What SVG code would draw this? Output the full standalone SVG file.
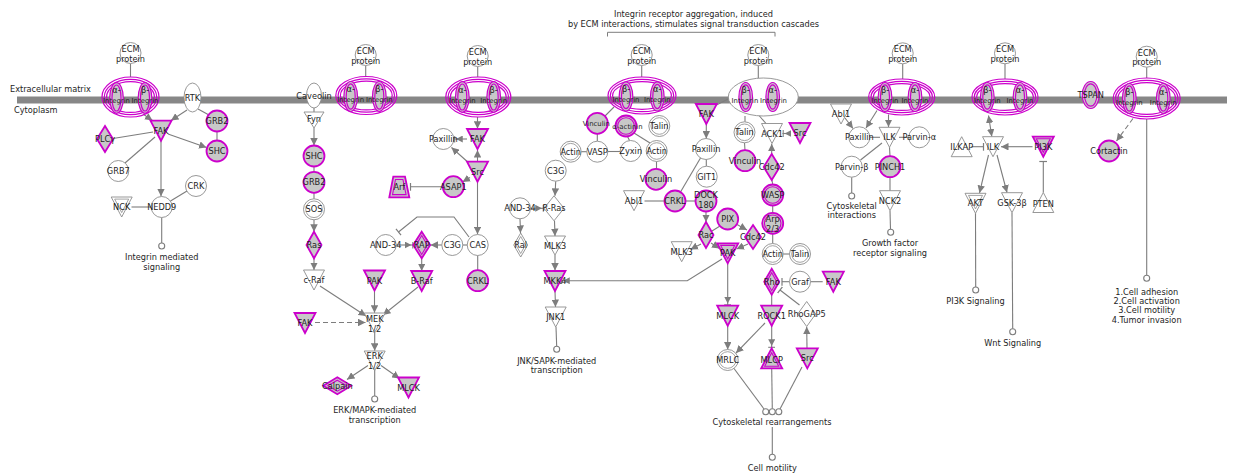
<svg xmlns="http://www.w3.org/2000/svg" xmlns:xlink="http://www.w3.org/1999/xlink" width="1233" height="475" viewBox="0 0 1233 475">
<style>
.w{fill:#fff;stroke:#8c8c8c;stroke-width:.9}
.wi{fill:none;stroke:#8c8c8c;stroke-width:.8}
.g{fill:#c8c8c8;stroke:#cc00cc;stroke-width:1.8}
.gi{fill:none;stroke:#cc00cc;stroke-width:1.1}
.m{fill:none;stroke:#cc00cc;stroke-width:1.2}
.mg{fill:#c8c8c8;stroke:#cc00cc;stroke-width:1.2}
.e{fill:none;stroke:#7d7d7d;stroke-width:1.1}
.a{marker-end:url(#arr)}
.ab{marker-end:url(#arrbar)}
.b{marker-end:url(#bar)}
.d{stroke-dasharray:5 3}
.s{fill:#fff;stroke:#7d7d7d;stroke-width:1.1}
.t{font-family:'DejaVu Sans',Verdana,sans-serif;font-size:8.2px;fill:#1e1e1e;text-anchor:middle}
.tl{font-family:'DejaVu Sans',Verdana,sans-serif;font-size:8.2px;fill:#1e1e1e}
.ti{font-size:6.9px}
</style>
<defs>
<marker id="arr" viewBox="0 0 10 10" refX="10" refY="5" markerWidth="7.5" markerHeight="7.5" markerUnits="userSpaceOnUse" orient="auto-start-reverse"><path d="M0,0L10,5L0,10z" fill="#7d7d7d"/></marker>
<marker id="arrbar" viewBox="0 0 13 10" refX="12.5" refY="5" markerWidth="9.1" markerHeight="7" markerUnits="userSpaceOnUse" orient="auto"><path d="M0,0L9.5,5L0,10z" fill="#7d7d7d"/><path d="M11.5,0V10" stroke="#7d7d7d" stroke-width="1.5"/></marker>
<marker id="bar" viewBox="0 0 10 10" refX="5" refY="5" markerWidth="8" markerHeight="8" markerUnits="userSpaceOnUse" orient="auto"><path d="M5,0V10" stroke="#7d7d7d" stroke-width="1.5"/></marker>
<circle id="c" r="10.5"/>
<circle id="ci" r="8.3"/>
<polygon id="dt" points="-10.5,-10 10.5,-10 0,10"/>
<polygon id="dti" points="-7,-7.9 7,-7.9 0,5.6"/>
<polygon id="ut" points="0,-10 10.5,10 -10.5,10"/>
<polygon id="uti" points="0,-5.6 7,7.9 -7,7.9"/>
<circle id="sc" r="3"/>
</defs>

<!-- membrane -->
<rect x="17" y="96.5" width="1210" height="7" fill="#878787"/>
<text class="tl" x="10" y="92">Extracellular matrix</text>
<text class="tl" x="14" y="112.7">Cytoplasm</text>

<!-- bracket -->
<g id="annotation">
<text class="t" x="693.5" y="17.3">Integrin receptor aggregation, induced</text>
<text class="t" x="693.5" y="27">by ECM interactions, stimulates signal transduction cascades</text>
<path d="M607.5,36.5V32.3H775V36.5" fill="none" stroke="#7d7d7d" stroke-width="1"/>
</g>

<g id="connectors">
<!-- group 1 -->
<path class="e" d="M130.5,63.5V77"/>
<path class="e a" d="M143,114L152.5,120.5"/>
<path class="e a" d="M187,110L171,120.5"/>
<path class="e" d="M198,109L209,115"/>
<path class="e" d="M217,131.5V140.5"/>
<path class="e a" d="M168,134L206.5,147.5"/>
<path class="e" d="M153,132L113,138.5"/>
<path class="e" d="M155,137L125,163"/>
<path class="e a" d="M161,141V196.3"/>
<path class="e" d="M187,191L170.5,201"/>
<path class="e" d="M131.5,207H151"/>
<path class="e" d="M161.7,217.5V243"/>
<!-- group 2 -->
<path class="e" d="M365.7,65.5V76.5"/>
<path class="e" d="M314,108V112"/>
<path class="e a" d="M314,128V145.5"/>
<path class="e" d="M314,166.5V171.8"/>
<path class="e" d="M314,192.8V198.8"/>
<path class="e a" d="M314,219.8V231.7"/>
<path class="e a" d="M314,258.3V270"/>
<path class="e a" d="M320,286L366,316"/>
<path class="e a" d="M374.5,290.5V312.8"/>
<path class="e a" d="M418,287L383,315"/>
<path class="e d a" d="M315,322.5H365.5"/>
<path class="e a" d="M374.7,332V350.8"/>
<path class="e a" d="M368,365.5L347,379.5"/>
<path class="e a" d="M381,365.5L399.5,378.5"/>
<path class="e" d="M374.7,370V396"/>
<!-- group 3 -->
<path class="e" d="M477.7,66.5V77"/>
<path class="e a" d="M477.5,117V128.8"/>
<path class="e ab" d="M467,139H454"/>
<path class="e a" d="M477.5,162V150"/>
<path class="e a" d="M470,164L451.5,147.5"/>
<path class="e a" d="M470,177.5L462.5,182"/>
<path class="e b" d="M442.8,186.7H410.5"/>
<path class="e a" d="M477.5,182V234.3"/>
<path class="e" d="M467.2,245H462.8"/>
<path class="e a" d="M441.8,245H430.5"/>
<path class="e ab" d="M396.2,245H413.5"/>
<path class="e b" d="M469,237L454,217H417L398.5,232"/>
<path class="e a" d="M421.7,258.5V271"/>
<path class="e" d="M477.7,255.5V270.2"/>
<!-- group 4 -->
<path class="e" d="M641.7,65.5V77"/>
<path class="e" d="M614,107L605,116"/>
<path class="e" d="M597.3,133.8V141.2"/>
<path class="e" d="M581.2,151.7H586.8"/>
<path class="e" d="M607.8,151.5H620.2"/>
<path class="e" d="M627.5,136.5L629.5,140.5"/>
<path class="e" d="M634,133L650,143"/>
<path class="e" d="M656.5,161.5V168.8"/>
<path class="e a" d="M555.7,181.2L555,195.8"/>
<path class="e ab" d="M530.5,208.3H544"/>
<path class="e a" d="M520,218.8L520.5,233"/>
<path class="e a" d="M554.5,220.8L555,236"/>
<path class="e a" d="M555,255V270.5"/>
<path class="e a" d="M555,291L555.5,307"/>
<path class="e" d="M556,327L556.7,346.3"/>
<path class="e ab" d="M722,259L687.3,280.7H561"/>
<!-- centre -->
<path class="e" d="M731,97.5L716.5,105"/>
<path class="e a" d="M706.3,124V138.5"/>
<path class="e" d="M706.3,159.5V166.2"/>
<path class="e" d="M700.5,158L680.5,192"/>
<path class="e" d="M644.5,201H664.5"/>
<path class="e" d="M685.5,201H695.5"/>
<path class="e a" d="M706,211.5V222"/>
<path class="e" d="M720,226L712,231"/>
<path class="e a" d="M737,224.5L747,230"/>
<path class="e a" d="M701,244L690.5,249.5"/>
<path class="e a" d="M711,243L719.5,248.5"/>
<path class="e a" d="M748,244L736.5,249"/>
<path class="e ab" d="M727.7,263.3V305.5"/>
<path class="e a" d="M727.7,325.5V349.5"/>
<path class="e a" d="M765,323L736,353"/>
<path class="e ab" d="M771.7,325.5V348"/>
<path class="e" d="M771.7,294.7V305.7"/>
<path class="e b" d="M789.5,281.7H782"/>
<path class="e" d="M810.5,281.7H822.7"/>
<path class="e b" d="M799.5,305L780,290"/>
<path class="e a" d="M807,348.3L806.7,326.8"/>
<path class="e" d="M734,368.5L764,409"/>
<path class="e" d="M771.7,368.3L772.3,408.7"/>
<path class="e" d="M802,367L780,409"/>
<path class="e" d="M772.3,427V454.3"/>
<path class="e" d="M758.3,65.5V78"/>
<path class="e" d="M745,116V121.8"/>
<path class="e" d="M744.5,142.8L745,150.2"/>
<path class="e" d="M759,115.5L766,123.5"/>
<path class="e ab" d="M790,133.5H782.5"/>
<path class="e a" d="M771.7,154V143.8"/>
<path class="e" d="M772,180L772.7,184.5"/>
<path class="e" d="M772.7,205.5V212.8"/>
<path class="e" d="M772.7,233.8V243.5"/>
<path class="e" d="M783.2,254H789.5"/>
<!-- group 6 -->
<path class="e" d="M902.7,63.8V79"/>
<path class="e a" d="M845,118L853,128.5"/>
<path class="e a" d="M877,110.5L866,128"/>
<path class="e a" d="M888.5,114.5V127"/>
<path class="e" d="M869.8,137.3H880"/>
<path class="e" d="M899,137.3H908.8"/>
<path class="e" d="M882,143L860.5,160"/>
<path class="e" d="M889.5,147.3L890,156.2"/>
<path class="e" d="M890,177.2V190.7"/>
<path class="e" d="M851.7,177.2V193"/>
<path class="e" d="M890,210.7L890.5,229.3"/>
<!-- group 7 -->
<path class="e" d="M1005,63.8V79"/>
<path class="e" d="M988.5,115.5L991.8,136.5" marker-start="url(#arr)" marker-end="url(#arr)"/>
<path class="e b" d="M971.5,146.7H983.5"/>
<path class="e a" d="M1032.5,146.7H1001"/>
<path class="e b" d="M1043.3,192.5V161.5"/>
<path class="e a" d="M988.5,155L979.5,193"/>
<path class="e a" d="M997,155L1007,192.5"/>
<path class="e" d="M975.5,213.3L975.7,287"/>
<path class="e" d="M1012,212.7L1012.7,328.7"/>
<!-- group 8 -->
<path class="e" d="M1146.7,67.2V78"/>
<path class="e d a" d="M1133,118.5L1116.5,141"/>
<path class="e" d="M1146.7,119V275.3"/>
</g>

<!-- ===== integrin complexes ===== -->
<g id="n-int1" transform="translate(130.5,97)">
<ellipse class="m" rx="28.5" ry="20"/><ellipse class="m" rx="26.2" ry="17.7"/><ellipse class="m" rx="23.9" ry="15.4"/>
<ellipse class="mg" cx="-14" cy="1" rx="6.8" ry="15.3"/><ellipse class="m" cx="-14" cy="1" rx="4.5" ry="13"/>
<ellipse class="mg" cx="14.5" cy="1" rx="6.8" ry="15.3"/><ellipse class="m" cx="14.5" cy="1" rx="4.5" ry="13"/>
<text class="t" x="-14" y="-4">α-</text><text class="t ti" x="-14" y="6">Integrin</text>
<text class="t" x="14.5" y="-4">β-</text><text class="t ti" x="14.5" y="6">Integrin</text>
</g>
<g id="n-int2" transform="translate(366.3,95.5)">
<ellipse class="m" rx="30.5" ry="19"/><ellipse class="m" rx="28.2" ry="16.7"/><ellipse class="m" rx="25.9" ry="14.4"/>
<ellipse class="mg" cx="-15.6" cy="1" rx="6.8" ry="15"/><ellipse class="m" cx="-15.6" cy="1" rx="4.5" ry="12.7"/>
<ellipse class="mg" cx="13" cy="1" rx="6.8" ry="15"/><ellipse class="m" cx="13" cy="1" rx="4.5" ry="12.7"/>
<text class="t" x="-15.6" y="-4">α-</text><text class="t ti" x="-15.6" y="6">Integrin</text>
<text class="t" x="13" y="-4">β-</text><text class="t ti" x="13" y="6">Integrin</text>
</g>
<g id="n-int3" transform="translate(478.3,97)">
<ellipse class="m" rx="32.5" ry="20"/><ellipse class="m" rx="30.2" ry="17.7"/><ellipse class="m" rx="27.9" ry="15.4"/>
<ellipse class="mg" cx="-16" cy="0" rx="6.8" ry="15.3"/><ellipse class="m" cx="-16" cy="0" rx="4.5" ry="13"/>
<ellipse class="mg" cx="15.4" cy="0" rx="6.8" ry="15.3"/><ellipse class="m" cx="15.4" cy="0" rx="4.5" ry="13"/>
<text class="t" x="-16" y="-4">α-</text><text class="t ti" x="-16" y="6">Integrin</text>
<text class="t" x="15.4" y="-4">β-</text><text class="t ti" x="15.4" y="6">Integrin</text>
</g>
<g id="n-int4" transform="translate(642,95.5)">
<ellipse class="m" rx="34" ry="18.5"/><ellipse class="m" rx="31.7" ry="16.2"/><ellipse class="m" rx="29.4" ry="13.9"/>
<ellipse class="mg" cx="-16" cy="1" rx="6.8" ry="14.5"/><ellipse class="m" cx="-16" cy="1" rx="4.5" ry="12.2"/>
<ellipse class="mg" cx="15.3" cy="1" rx="6.8" ry="14.5"/><ellipse class="m" cx="15.3" cy="1" rx="4.5" ry="12.2"/>
<text class="t" x="-16" y="-4">β-</text><text class="t ti" x="-16" y="6">Integrin</text>
<text class="t" x="15.3" y="-4">α-</text><text class="t ti" x="15.3" y="6">Integrin</text>
</g>
<g id="n-int5" transform="translate(763.3,97)">
<ellipse class="w" rx="35" ry="19"/>
<ellipse class="mg" cx="-17.6" cy="0" rx="6.8" ry="14.5"/><ellipse class="m" cx="-17.6" cy="0" rx="4.5" ry="12.2"/>
<ellipse class="mg" cx="9.4" cy="0" rx="6.8" ry="14.5"/><ellipse class="m" cx="9.4" cy="0" rx="4.5" ry="12.2"/>
<text class="t" x="-17.6" y="-4">β-</text><text class="t ti" x="-18.4" y="6">Integrin</text>
<text class="t" x="9.4" y="-4">α-</text><text class="t ti" x="10.2" y="6">Integrin</text>
</g>
<g id="n-int6" transform="translate(901.7,97)">
<ellipse class="m" rx="33" ry="18"/><ellipse class="m" rx="30.7" ry="15.7"/><ellipse class="m" rx="28.4" ry="13.4"/>
<ellipse class="mg" cx="-16.7" cy="0" rx="6.8" ry="14.5"/><ellipse class="m" cx="-16.7" cy="0" rx="4.5" ry="12.2"/>
<ellipse class="mg" cx="13.3" cy="0" rx="6.8" ry="14.5"/><ellipse class="m" cx="13.3" cy="0" rx="4.5" ry="12.2"/>
<text class="t" x="-16.7" y="-4">β-</text><text class="t ti" x="-16.7" y="6">Integrin</text>
<text class="t" x="13.3" y="-4">α-</text><text class="t ti" x="13.3" y="6">Integrin</text>
</g>
<g id="n-int7" transform="translate(1005,97)">
<ellipse class="m" rx="33" ry="18"/><ellipse class="m" rx="30.7" ry="15.7"/><ellipse class="m" rx="28.4" ry="13.4"/>
<ellipse class="mg" cx="-17.7" cy="0" rx="6.8" ry="14.5"/><ellipse class="m" cx="-17.7" cy="0" rx="4.5" ry="12.2"/>
<ellipse class="mg" cx="15" cy="0" rx="6.8" ry="14.5"/><ellipse class="m" cx="15" cy="0" rx="4.5" ry="12.2"/>
<text class="t" x="-17.7" y="-4">β-</text><text class="t ti" x="-17.7" y="6">Integrin</text>
<text class="t" x="15" y="-4">α-</text><text class="t ti" x="15" y="6">Integrin</text>
</g>
<g id="n-int8" transform="translate(1146.7,98.5)">
<ellipse class="m" rx="33.5" ry="20.5"/><ellipse class="m" rx="31.2" ry="18.2"/><ellipse class="m" rx="28.9" ry="15.9"/>
<ellipse class="mg" cx="-17.4" cy="0" rx="6.8" ry="15"/><ellipse class="m" cx="-17.4" cy="0" rx="4.5" ry="12.7"/>
<ellipse class="mg" cx="16.6" cy="0" rx="6.8" ry="15"/><ellipse class="m" cx="16.6" cy="0" rx="4.5" ry="12.7"/>
<text class="t" x="-17.4" y="-4">β-</text><text class="t ti" x="-17.4" y="6">Integrin</text>
<text class="t" x="16.6" y="-4">α-</text><text class="t ti" x="16.6" y="6">Integrin</text>
</g>

<!-- ECM proteins -->
<g id="n-ecm1" transform="translate(130.5,53)"><use href="#c" class="w"/><text class="t" y="-1">ECM</text><text class="t" y="8.5">protein</text></g>
<g id="n-ecm2" transform="translate(365.7,55)"><use href="#c" class="w"/><text class="t" y="-1">ECM</text><text class="t" y="8.5">protein</text></g>
<g id="n-ecm3" transform="translate(477.7,56)"><use href="#c" class="w"/><text class="t" y="-1">ECM</text><text class="t" y="8.5">protein</text></g>
<g id="n-ecm4" transform="translate(641.7,55)"><use href="#c" class="w"/><text class="t" y="-1">ECM</text><text class="t" y="8.5">protein</text></g>
<g id="n-ecm5" transform="translate(758.3,55)"><use href="#c" class="w"/><text class="t" y="-1">ECM</text><text class="t" y="8.5">protein</text></g>
<g id="n-ecm6" transform="translate(902.7,53.3)"><use href="#c" class="w"/><text class="t" y="-1">ECM</text><text class="t" y="8.5">protein</text></g>
<g id="n-ecm7" transform="translate(1005,53.3)"><use href="#c" class="w"/><text class="t" y="-1">ECM</text><text class="t" y="8.5">protein</text></g>
<g id="n-ecm8" transform="translate(1146.7,56.7)"><use href="#c" class="w"/><text class="t" y="-1">ECM</text><text class="t" y="8.5">protein</text></g>

<!-- group 1 nodes -->
<g id="n-rtk" transform="translate(192.5,97.5)"><ellipse class="w" rx="8.5" ry="14.5"/><text class="t" y="3">RTK</text></g>
<g id="n-fak1" transform="translate(161,130.7)"><use href="#dt" class="g"/><text class="t" y="3">FAK</text></g>
<g id="n-plcg" transform="translate(105,139)"><polygon class="g" points="0,-13 8,0 0,13 -8,0"/><text class="t" y="3">PLCγ</text></g>
<g id="n-grb2a" transform="translate(217,121)"><use href="#c" class="g"/><text class="t" y="3">GRB2</text></g>
<g id="n-shc1" transform="translate(217,151)"><use href="#c" class="g"/><text class="t" y="3">SHC</text></g>
<g id="n-grb7" transform="translate(118.3,171)"><use href="#c" class="w"/><text class="t" y="3">GRB7</text></g>
<g id="n-crk" transform="translate(196,186)"><use href="#c" class="w"/><text class="t" y="3">CRK</text></g>
<g id="n-nck" transform="translate(121.7,207)"><use href="#dt" class="w"/><use href="#dti" class="wi"/><text class="t" y="3">NCK</text></g>
<g id="n-nedd9" transform="translate(161.7,207)"><use href="#c" class="w"/><text class="t" y="3">NEDD9</text></g>
<g id="n-out1"><use href="#sc" x="161.7" y="246" class="s"/><text class="t" x="161.7" y="259.5">Integrin mediated</text><text class="t" x="161.7" y="269.5">signaling</text></g>

<!-- group 2 nodes -->
<g id="n-caveolin" transform="translate(314,95.5)"><ellipse class="w" rx="7.5" ry="12.5"/><text class="t" y="3">Caveolin</text></g>
<g id="n-fyn" transform="translate(314,120)"><polygon class="w" points="-10,-8 10,-8 0,8"/><text class="t" y="2">Fyn</text></g>
<g id="n-shc2" transform="translate(314,156)"><use href="#c" class="g"/><text class="t" y="3">SHC</text></g>
<g id="n-grb2b" transform="translate(314,182.3)"><use href="#c" class="g"/><text class="t" y="3">GRB2</text></g>
<g id="n-sos" transform="translate(314,209.3)"><use href="#c" class="w"/><use href="#ci" class="wi"/><text class="t" y="3">SOS</text></g>
<g id="n-ras" transform="translate(314,245)"><polygon class="g" points="0,-13.3 7.5,0 0,13.3 -7.5,0"/><text class="t" y="3">Ras</text></g>
<g id="n-craf" transform="translate(314,280)"><use href="#dt" class="w"/><text class="t" y="3">c-Raf</text></g>
<g id="n-pak1" transform="translate(374.5,280.5)"><use href="#dt" class="g"/><text class="t" y="3">PAK</text></g>
<g id="n-fak2" transform="translate(305,323)"><use href="#dt" class="g"/><text class="t" y="3">FAK</text></g>
<g id="n-mek" transform="translate(374.7,322.5)"><polygon class="w" points="-10.5,-9.5 10.5,-9.5 0,10"/><text class="t" y="-0.3">MEK</text><text class="t" y="9.2">1/2</text></g>
<g id="n-erk" transform="translate(374.7,360.5)"><polygon class="w" points="-10.5,-9.5 10.5,-9.5 0,10"/><text class="t" y="-1.2">ERK</text><text class="t" y="8.5">1/2</text></g>
<g id="n-calpain" transform="translate(337.3,385.7)"><polygon class="g" points="0,-8.5 14,0 0,8.5 -14,0"/><polygon class="gi" points="0,-5.5 9.5,0 0,5.5 -9.5,0"/><text class="t" y="3">Calpain</text></g>
<g id="n-mlck1" transform="translate(408.5,387.5)"><use href="#dt" class="g"/><text class="t" y="3">MLCK</text></g>
<g id="n-out2"><use href="#sc" x="374.7" y="399" class="s"/><text class="t" x="374.7" y="413">ERK/MAPK-mediated</text><text class="t" x="374.7" y="422.7">transcription</text></g>

<!-- group 3 nodes -->
<g id="n-fak3" transform="translate(477.5,139)"><use href="#dt" class="g"/><text class="t" y="3">FAK</text></g>
<g id="n-pax1" transform="translate(443.3,139)"><use href="#c" class="w"/><text class="t" y="3">Paxillin</text></g>
<g id="n-src1" transform="translate(477.5,171.7)"><use href="#dt" class="g"/><text class="t" y="3">Src</text></g>
<g id="n-asap1" transform="translate(453.3,186.7)"><use href="#c" class="g"/><text class="t" y="3">ASAP1</text></g>
<g id="n-arf" transform="translate(399.3,187)"><polygon class="g" points="-6,-10.3 5.7,-10.3 10,10.3 -10,10.3"/><polygon class="gi" points="-3.8,-7.5 3.6,-7.5 6.8,7.6 -6.8,7.6"/><text class="t" y="3">Arf</text></g>
<g id="n-cas" transform="translate(477.7,245)"><use href="#c" class="w"/><text class="t" y="3">CAS</text></g>
<g id="n-c3g1" transform="translate(452.3,245)"><use href="#c" class="w"/><text class="t" y="3">C3G</text></g>
<g id="n-rap" transform="translate(421.7,245)"><polygon class="g" points="0,-13.3 8.5,0 0,13.3 -8.5,0"/><polygon class="gi" points="0,-9.5 5.6,0 0,9.5 -5.6,0"/><text class="t" y="3">RAP</text></g>
<g id="n-and34a" transform="translate(385.7,245)"><use href="#c" class="w"/><text class="t" y="3">AND-34</text></g>
<g id="n-braf" transform="translate(421.7,281)"><use href="#dt" class="g"/><text class="t" y="3">B-Raf</text></g>
<g id="n-crkl1" transform="translate(477.7,280.7)"><use href="#c" class="g"/><text class="t" y="3">CRKL</text></g>

<!-- group 4 nodes -->
<g id="n-vinc1" transform="translate(597.3,123.3)"><use href="#c" class="g"/><text class="t ti" x="-1" y="3">Vinculin</text></g>
<g id="n-aact" transform="translate(626,126)"><use href="#c" class="g"/><use href="#ci" class="gi"/><text class="t ti" x="1.5" y="3">α-actinin</text></g>
<g id="n-talin1" transform="translate(659.3,126)"><use href="#c" class="w"/><use href="#ci" class="wi"/><text class="t" y="3">Talin</text></g>
<g id="n-actin1" transform="translate(570.7,151.7)"><use href="#c" class="w"/><use href="#ci" class="wi"/><text class="t" y="3">Actin</text></g>
<g id="n-vasp" transform="translate(597.3,151.7)"><use href="#c" class="w"/><text class="t" y="3">VASP</text></g>
<g id="n-zyxin" transform="translate(630.7,151)"><use href="#c" class="w"/><text class="t" y="3">Zyxin</text></g>
<g id="n-actin2" transform="translate(656.7,151)"><use href="#c" class="w"/><use href="#ci" class="wi"/><text class="t" y="3">Actin</text></g>
<g id="n-vinc2" transform="translate(656,179.3)"><use href="#c" class="g"/><text class="t" y="3">Vinculin</text></g>
<g id="n-c3g2" transform="translate(555.7,170.7)"><use href="#c" class="w"/><text class="t" y="3">C3G</text></g>
<g id="n-rras" transform="translate(554,208.3)"><polygon class="w" points="0,-12.5 10,0 0,12.5 -10,0"/><text class="t" y="3">R-Ras</text></g>
<g id="n-and34b" transform="translate(520,208.3)"><use href="#c" class="w"/><text class="t" y="3">AND-34</text></g>
<g id="n-ral" transform="translate(520.7,245)"><polygon class="w" points="0,-12 7,0 0,12 -7,0"/><polygon class="wi" points="0,-8.5 4.7,0 0,8.5 -4.7,0"/><text class="t" y="3">Ral</text></g>
<g id="n-mlk3a" transform="translate(555,245.5)"><polygon class="w" points="-10.5,-9.5 10.5,-9.5 0,9.5"/><text class="t" y="3">MLK3</text></g>
<g id="n-mkk4" transform="translate(555,281)"><use href="#dt" class="g"/><text class="t" y="3">MKK4</text></g>
<g id="n-jnk1" transform="translate(555.7,317)"><use href="#dt" class="w"/><text class="t" y="3">JNK1</text></g>
<g id="n-out3"><use href="#sc" x="556.7" y="349.3" class="s"/><text class="t" x="556.7" y="363.7">JNK/SAPK-mediated</text><text class="t" x="556.7" y="373">transcription</text></g>

<!-- centre nodes -->
<g id="n-fak4" transform="translate(706.3,114)"><use href="#dt" class="g"/><text class="t" y="3">FAK</text></g>
<g id="n-pax2" transform="translate(706,149)"><use href="#c" class="w"/><text class="t" y="3">Paxillin</text></g>
<g id="n-git1" transform="translate(706.7,176.7)"><use href="#c" class="w"/><text class="t" y="3">GIT1</text></g>
<g id="n-abl1a" transform="translate(634,200.7)"><use href="#dt" class="w"/><text class="t" y="3">Abl1</text></g>
<g id="n-crkl2" transform="translate(675,201)"><use href="#c" class="g"/><text class="t" y="3">CRKL</text></g>
<g id="n-dock" transform="translate(706,201)"><use href="#c" class="g"/><text class="t" y="-3">DOCK</text><text class="t" y="7">180</text></g>
<g id="n-pix" transform="translate(727.7,219)"><use href="#c" class="g"/><text class="t" y="3">PIX</text></g>
<g id="n-rac" transform="translate(706,235)"><polygon class="g" points="0,-13 7.5,0 0,13 -7.5,0"/><text class="t" y="3">Rac</text></g>
<g id="n-cdc42b" transform="translate(753,237)"><polygon class="g" points="0,-12 8,0 0,12 -8,0"/><text class="t" y="3">Cdc42</text></g>
<g id="n-mlk3b" transform="translate(681.7,251.7)"><use href="#dt" class="w"/><text class="t" y="3">MLK3</text></g>
<g id="n-pak2" transform="translate(727.7,253.3)"><use href="#dt" class="g"/><use href="#dti" class="gi"/><text class="t" y="3">PAK</text></g>
<g id="n-mlck2" transform="translate(727.7,315.7)"><use href="#dt" class="g"/><text class="t" y="3">MLCK</text></g>
<g id="n-mrlc" transform="translate(727.7,360)"><use href="#c" class="w"/><use href="#ci" class="wi"/><text class="t" y="3">MRLC</text></g>
<g id="n-rock1" transform="translate(771.7,315.7)"><use href="#dt" class="g"/><text class="t" y="3">ROCK1</text></g>
<g id="n-mlcp" transform="translate(771.7,358.3)"><use href="#ut" class="g"/><use href="#uti" class="gi"/><text class="t" y="5">MLCP</text></g>
<g id="n-rho" transform="translate(771.7,281.7)"><polygon class="g" points="0,-13 7.5,0 0,13 -7.5,0"/><polygon class="gi" points="0,-9 5,0 0,9 -5,0"/><text class="t" y="3">Rho</text></g>
<g id="n-graf" transform="translate(800,281.7)"><use href="#c" class="w"/><text class="t" y="3">Graf</text></g>
<g id="n-fak5" transform="translate(833.3,281.7)"><use href="#dt" class="g"/><text class="t" y="3">FAK</text></g>
<g id="n-rhogap5" transform="translate(806.7,314)"><polygon class="w" points="0,-12.5 9,0 0,12.5 -9,0"/><text class="t" y="3">RhoGAP5</text></g>
<g id="n-src3" transform="translate(807.3,358.3)"><use href="#dt" class="g"/><text class="t" y="3">Src</text></g>
<g id="n-out4"><use href="#sc" x="765.7" y="411.7" class="s"/><use href="#sc" x="772.3" y="411.7" class="s"/><use href="#sc" x="778.8" y="411.7" class="s"/><text class="t" x="772" y="424.5">Cytoskeletal rearrangements</text></g>
<g id="n-out5"><use href="#sc" x="772.3" y="457.3" class="s"/><text class="t" x="772.3" y="471">Cell motility</text></g>
<g id="n-talin2" transform="translate(744.5,132.3)"><use href="#c" class="w"/><use href="#ci" class="wi"/><text class="t" y="3">Talin</text></g>
<g id="n-vinc3" transform="translate(745,160.7)"><use href="#c" class="g"/><text class="t" y="3">Vinculin</text></g>
<g id="n-ack1" transform="translate(772,133.5)"><use href="#dt" class="w"/><text class="t" y="3">ACK1</text></g>
<g id="n-src2" transform="translate(800,133)"><use href="#dt" class="g"/><text class="t" y="3">Src</text></g>
<g id="n-cdc42a" transform="translate(771.7,167)"><polygon class="g" points="0,-13 8,0 0,13 -8,0"/><text class="t" y="3">Cdc42</text></g>
<g id="n-wasp" transform="translate(772.7,195)"><use href="#c" class="g"/><use href="#ci" class="gi"/><text class="t" y="3">WASP</text></g>
<g id="n-arp" transform="translate(772.7,223.3)"><use href="#c" class="g"/><use href="#ci" class="gi"/><text class="t" y="-1.3">Arp</text><text class="t" y="8.7">2/3</text></g>
<g id="n-actin3" transform="translate(772.7,254)"><use href="#c" class="w"/><use href="#ci" class="wi"/><text class="t" y="3">Actin</text></g>
<g id="n-talin3" transform="translate(800,254)"><use href="#c" class="w"/><use href="#ci" class="wi"/><text class="t" y="3">Talin</text></g>

<!-- group 6 nodes -->
<g id="n-abl1b" transform="translate(841,114)"><use href="#dt" class="w"/><text class="t" y="3">Abl1</text></g>
<g id="n-pax3" transform="translate(859.3,137.3)"><use href="#c" class="w"/><text class="t" y="3">Paxillin</text></g>
<g id="n-ilk1" transform="translate(889.5,137.3)"><use href="#dt" class="w"/><text class="t" y="3">ILK</text></g>
<g id="n-parva" transform="translate(919.3,137.3)"><use href="#c" class="w"/><text class="t" y="3">Parvin-α</text></g>
<g id="n-parvb" transform="translate(851.7,166.7)"><use href="#c" class="w"/><text class="t" y="3">Parvin-β</text></g>
<g id="n-pinch1" transform="translate(890,166.7)"><use href="#c" class="g"/><text class="t" y="3">PINCH1</text></g>
<g id="n-nck2" transform="translate(890,200.7)"><use href="#dt" class="w"/><text class="t" y="3">NCK2</text></g>
<g id="n-out6"><use href="#sc" x="851.7" y="196" class="s"/><text class="t" x="851.7" y="209">Cytoskeletal</text><text class="t" x="851.7" y="218.3">interactions</text></g>
<g id="n-out7"><use href="#sc" x="890.7" y="232.3" class="s"/><text class="t" x="890" y="246.3">Growth factor</text><text class="t" x="890" y="255.7">receptor signaling</text></g>

<!-- group 7 nodes -->
<g id="n-ilkap" transform="translate(961.7,146.7)"><use href="#ut" class="w"/><text class="t" y="3">ILKAP</text></g>
<g id="n-ilk2" transform="translate(993,146.7)"><use href="#dt" class="w"/><text class="t" y="3">ILK</text></g>
<g id="n-pi3k" transform="translate(1043.3,146.7)"><use href="#dt" class="g"/><use href="#dti" class="gi"/><text class="t" y="3">PI3K</text></g>
<g id="n-pten" transform="translate(1043.3,202.5)"><use href="#ut" class="w"/><text class="t" y="4">PTEN</text></g>
<g id="n-akt" transform="translate(975.5,203.3)"><use href="#dt" class="w"/><use href="#dti" class="wi"/><text class="t" y="3">AKT</text></g>
<g id="n-gsk" transform="translate(1012,202.7)"><use href="#dt" class="w"/><text class="t" y="3">GSK-3β</text></g>
<g id="n-out8"><use href="#sc" x="975.7" y="290" class="s"/><text class="t" x="975.5" y="303.5">PI3K Signaling</text></g>
<g id="n-out9"><use href="#sc" x="1012.7" y="331.7" class="s"/><text class="t" x="1012.7" y="346.3">Wnt Signaling</text></g>

<!-- group 8 nodes -->
<g id="n-tspan" transform="translate(1090.7,95)"><ellipse class="mg" rx="8.5" ry="13.5"/><ellipse class="m" rx="6.2" ry="11.2"/><text class="t" y="3">TSPAN</text></g>
<g id="n-cortactin" transform="translate(1109,151)"><use href="#c" class="g"/><text class="t" y="3">Cortactin</text></g>
<g id="n-out10"><use href="#sc" x="1146.7" y="278.3" class="s"/><text class="t" x="1146.7" y="294.7">1.Cell adhesion</text><text class="t" x="1146.7" y="304">2.Cell activation</text><text class="t" x="1146.7" y="313.3">3.Cell motility</text><text class="t" x="1146.7" y="323">4.Tumor invasion</text></g>
</svg>
